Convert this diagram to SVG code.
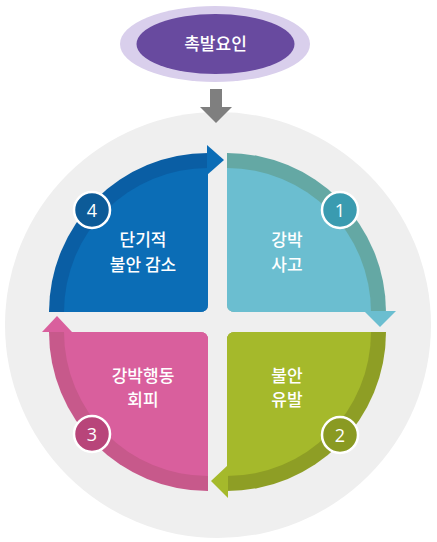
<svg xmlns="http://www.w3.org/2000/svg" width="437" height="542" viewBox="0 0 437 542">
<style>
.t{font-family:"Noto Sans CJK KR","Noto Sans",sans-serif;font-size:17px;fill:#fff;text-anchor:middle;font-weight:500}
.n{font-family:"Open Sans","Liberation Sans",sans-serif;font-size:18px;fill:#fff;text-anchor:middle}
.c{stroke:#fff;stroke-width:2.5}
</style>
<rect width="437" height="542" fill="#fff"/>
<circle cx="218" cy="325" r="213" fill="#efefef"/>
<g id="trigger">
<ellipse cx="215" cy="44" rx="95" ry="38" fill="#d9cfec"/>
<ellipse cx="215.5" cy="44" rx="79" ry="30" fill="#684a9f"/>
<text class="t" x="215.5" y="50">촉발요인</text>
</g>
<g id="connectors">
<polygon points="210,89 222,89 222,107 232,107 216,123 200,107 210,107" fill="#7f7f7f"/>
</g>
<g id="step4">
<path d="M208 153 A159 159 0 0 0 49 312 L200 312 Q208 312 208 304 Z" fill="#0a5ea4"/>
<path d="M208 168 A144 144 0 0 0 64 312 L200 312 Q208 312 208 304 Z" fill="#0b6db6"/>
<polygon points="207,145 224,160 207,175" fill="#0b6db6"/>
<text class="t" x="143" y="246">단기적</text>
<text class="t" x="143" y="271">불안 감소</text>
<circle class="c" cx="92" cy="210" r="18" fill="#0d5b98"/>
<text class="n" x="92" y="217">4</text>
</g>
<g id="step1">
<path d="M227 153 A159 159 0 0 1 386 312 L235 312 Q227 312 227 304 Z" fill="#64a8a4"/>
<path d="M227 168 A144 144 0 0 1 371 312 L235 312 Q227 312 227 304 Z" fill="#6bbed0"/>
<polygon points="364,311 396,311 380,327" fill="#6bbed0"/>
<text class="t" x="287" y="246">강박</text>
<text class="t" x="287" y="271">사고</text>
<circle class="c" cx="340" cy="210" r="18" fill="#3a9bb0"/>
<text class="n" x="340" y="217">1</text>
</g>
<g id="step2">
<path d="M386 332 A159 159 0 0 1 227 491 L227 340 Q227 332 235 332 Z" fill="#8e9e25"/>
<path d="M371 332 A144 144 0 0 1 227 476 L227 340 Q227 332 235 332 Z" fill="#a5b92b"/>
<polygon points="228,465 228,498 211,481" fill="#a5b92b"/>
<text class="t" x="287" y="382">불안</text>
<text class="t" x="287" y="406">유발</text>
<circle class="c" cx="340" cy="435" r="18" fill="#8a9a22"/>
<text class="n" x="340" y="442">2</text>
</g>
<g id="step3">
<path d="M208 491 A159 159 0 0 1 49 332 L200 332 Q208 332 208 340 Z" fill="#c7598b"/>
<path d="M208 476 A144 144 0 0 1 64 332 L200 332 Q208 332 208 340 Z" fill="#d95f9d"/>
<polygon points="42,332 72,332 57,316" fill="#d95f9d"/>
<text class="t" x="143" y="382">강박행동</text>
<text class="t" x="143" y="406">회피</text>
<circle class="c" cx="92" cy="434" r="18" fill="#b8457a"/>
<text class="n" x="92" y="441">3</text>
</g>
</svg>
